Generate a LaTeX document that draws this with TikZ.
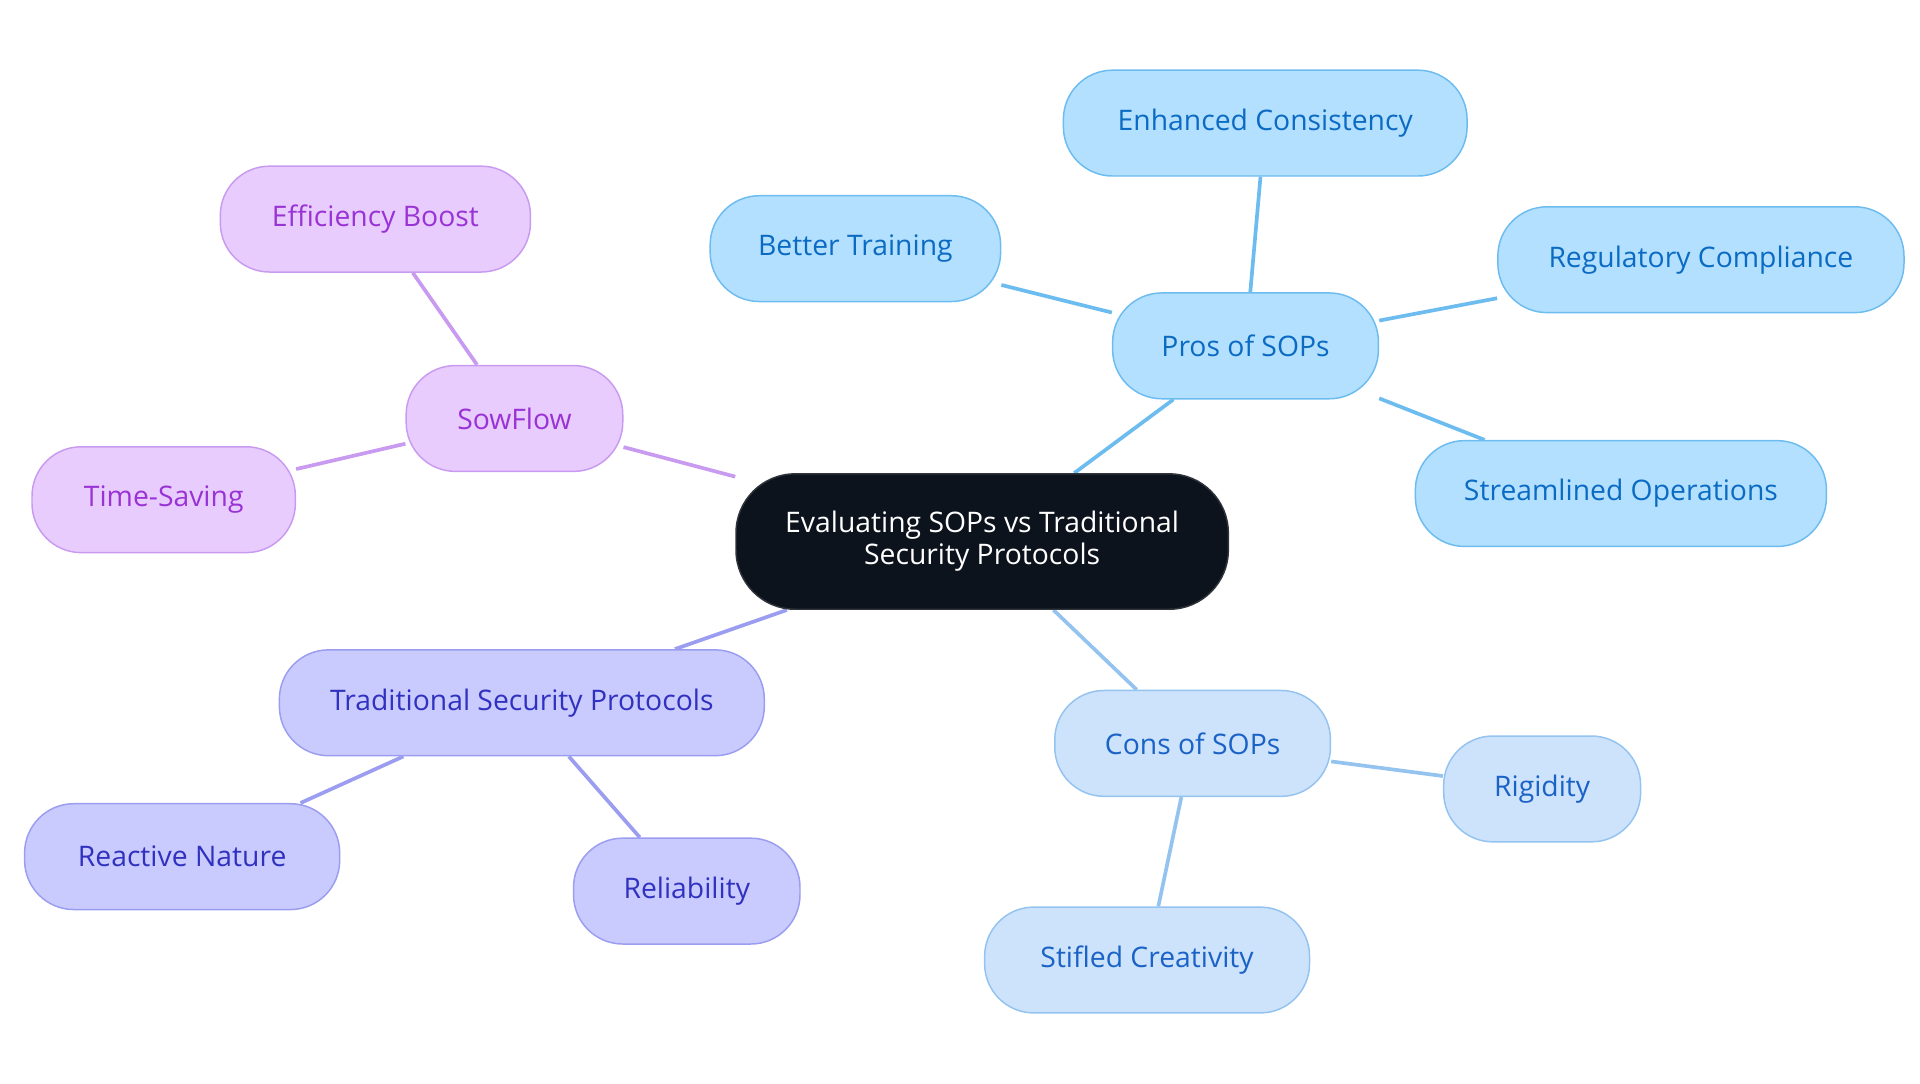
\documentclass[tikz,border=0pt]{standalone}
\usepackage{fontspec}
\setmainfont{Open Sans}
\usetikzlibrary{positioning,backgrounds}

\definecolor{rootfill}{HTML}{0D131D}
\definecolor{prosfill}{HTML}{B3E0FE}
\definecolor{prosline}{HTML}{6DBCF0}
\definecolor{prostext}{HTML}{0B6BC3}
\definecolor{consfill}{HTML}{CDE3FB}
\definecolor{consline}{HTML}{94C3F0}
\definecolor{constext}{HTML}{1A62C6}
\definecolor{sowfill}{HTML}{E8CCFE}
\definecolor{sowline}{HTML}{C99BF0}
\definecolor{sowtext}{HTML}{9A33D5}
\definecolor{tradfill}{HTML}{C9CBFE}
\definecolor{tradline}{HTML}{9A9DF0}
\definecolor{tradtext}{HTML}{3131BF}

\begin{document}
\begin{tikzpicture}[x=0.5pt,y=-0.5pt,
    mmnode/.style={rounded corners=20pt,draw,line width=0.6pt,minimum height=43pt,
      align=center,font=\fontsize{11.5}{13}\selectfont,inner sep=0pt},
    rootnode/.style={mmnode,fill=rootfill,draw=rootfill!70!gray,text=white,
      minimum width=200pt,minimum height=55pt,rounded corners=24pt},
    pros/.style={mmnode,fill=prosfill,draw=prosline,text=prostext},
    cons/.style={mmnode,fill=consfill,draw=consline,text=constext},
    sow/.style={mmnode,fill=sowfill,draw=sowline,text=sowtext},
    trad/.style={mmnode,fill=tradfill,draw=tradline,text=tradtext},
    link/.style={line width=1.5pt}]
    \useasboundingbox (0,0) rectangle (1560,880);

    \node[rootnode] (root) at (798,440) {Evaluating SOPs vs Traditional\\Security Protocols};

    \node[pros,minimum width=108pt] (pros) at (1012,281) {Pros of SOPs};
    \node[pros,minimum width=164pt] (consist) at (1028,100) {Enhanced Consistency};
    \node[pros,minimum width=118pt] (train) at (695,202) {Better Training};
    \node[pros,minimum width=165pt] (regul) at (1382,211) {Regulatory Compliance};
    \node[pros,minimum width=167pt] (stream) at (1317,401) {Streamlined Operations};

    \node[sow,minimum width=88pt] (sow) at (418,340) {SowFlow};
    \node[sow,minimum width=126pt] (effic) at (305,178) {Efficiency Boost};
    \node[sow,minimum width=107pt] (timesv) at (133,406) {Time-Saving};

    \node[trad,minimum width=197pt] (trad) at (424,571) {Traditional Security Protocols};
    \node[trad,minimum width=128pt] (react) at (148,696) {Reactive Nature};
    \node[trad,minimum width=92pt] (relia) at (558,724) {Reliability};

    \node[cons,minimum width=112pt] (cons) at (969,604) {Cons of SOPs};
    \node[cons,minimum width=80pt] (rigid) at (1253,641) {Rigidity};
    \node[cons,minimum width=132pt] (stifl) at (932,780) {Stifled Creativity};

    \begin{pgfonlayer}{background}
        \draw[link,prosline] (root) -- (pros) (pros) -- (consist) (pros) -- (train)
            (pros) -- (regul) (pros) -- (stream);
        \draw[link,sowline] (root) -- (sow) (sow) -- (effic) (sow) -- (timesv);
        \draw[link,tradline] (root) -- (trad) (trad) -- (react) (trad) -- (relia);
        \draw[link,consline] (root) -- (cons) (cons) -- (rigid) (cons) -- (stifl);
    \end{pgfonlayer}
\end{tikzpicture}
\end{document}
